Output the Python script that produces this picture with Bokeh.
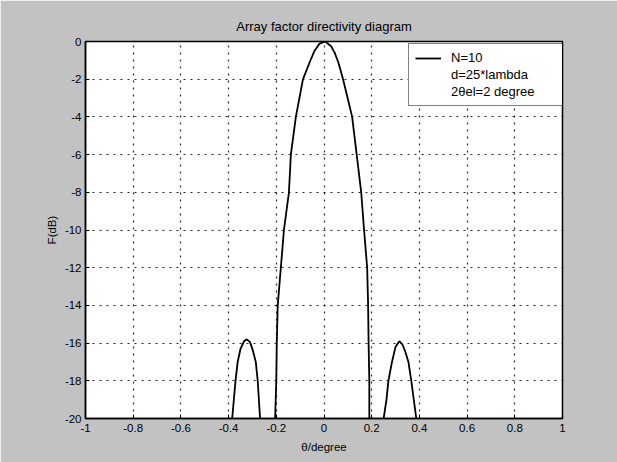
from bokeh.plotting import figure
from bokeh.models import Legend, LegendItem, FixedTicker, Range1d
from bokeh.embed import file_html
from bokeh.resources import INLINE

# ---- data ----
main_x = [-0.205, -0.200, -0.198, -0.194, -0.181, -0.168, -0.147, -0.139, -0.118, -0.088,
          -0.060, -0.040, -0.020, 0.005, 0.030, 0.045, 0.060, 0.080, 0.118, 0.137, 0.156, 0.168,
          0.181, 0.185, 0.187, 0.190, 0.190]
main_y = [-20, -18, -16, -14, -12, -10, -8, -6, -4, -2,
          -1.1, -0.5, -0.13, 0, -0.25, -0.6, -1.1, -2, -4, -6, -8, -10,
          -12, -14, -16, -18, -20]

left_x = [-0.385, -0.371, -0.362, -0.350, -0.335, -0.324, -0.310, -0.298, -0.286, -0.278, -0.268]
left_y = [-20, -18, -17, -16.3, -15.9, -15.8, -15.95, -16.4, -17, -18, -20]

right_x = [0.250, 0.262, 0.270, 0.285, 0.300, 0.316, 0.330, 0.342, 0.354, 0.366, 0.387]
right_y = [-20, -19, -18, -17, -16.2, -15.9, -16.1, -16.5, -17, -18, -20]

x_ticks = [-1, -0.8, -0.6, -0.4, -0.2, 0, 0.2, 0.4, 0.6, 0.8, 1]
y_ticks = [0, -2, -4, -6, -8, -10, -12, -14, -16, -18, -20]

legend_labels = ["N=10", "d=25*lambda", "2θel=2 degree"]
title_text = "Array factor directivity diagram"
x_label = "θ/degree"
y_label = "F(dB)"

FONT = "Liberation Sans"

p = figure(width=617, height=462, output_backend="svg", toolbar_location=None,
           frame_width=477, frame_height=377,
           x_range=Range1d(-1, 1), y_range=Range1d(-20, 0),
           min_border_left=85, min_border_right=55, min_border_top=41, min_border_bottom=44,
           title=title_text)

p.border_fill_color = "#c2c2c2"
p.background_fill_color = "white"
p.outline_line_color = "black"
p.outline_line_width = 1.5

p.title.align = "center"
p.title.text_font = FONT
p.title.text_font_size = "13px"
p.title.text_font_style = "normal"
p.title.text_color = "black"
p.title.standoff = 16

for ax in (p.xaxis[0], p.yaxis[0]):
    ax.major_tick_in = 4
    ax.major_tick_out = 0
    ax.minor_tick_in = 0
    ax.minor_tick_out = 0
    ax.axis_line_color = "black"
    ax.axis_line_width = 1.5
    ax.major_tick_line_color = "black"
    ax.major_label_text_font = FONT
    ax.major_label_text_font_size = "11.5px"
    ax.major_label_text_color = "black"
    ax.axis_label_text_font = FONT
    ax.axis_label_text_font_size = "11.5px"
    ax.axis_label_text_font_style = "normal"
    ax.axis_label_text_color = "black"

p.xaxis.ticker = FixedTicker(ticks=x_ticks)
p.yaxis.ticker = FixedTicker(ticks=y_ticks)
p.xaxis.major_label_overrides = {t: ("0" if t == 0 else f"{t:g}") for t in x_ticks}
p.yaxis.major_label_overrides = {t: f"{t:g}" for t in y_ticks}
p.xaxis.axis_label = x_label
p.yaxis.axis_label = y_label
p.xaxis.major_label_standoff = 5
p.yaxis.major_label_standoff = 4
p.xaxis.axis_label_standoff = 6
p.yaxis.axis_label_standoff = 4

p.grid.grid_line_color = "black"
p.grid.grid_line_dash = "2 5"
p.grid.grid_line_width = 1.2
p.grid.grid_line_alpha = 0.85

r_main = p.line(main_x, main_y, line_color="black", line_width=1.8)
p.line(left_x, left_y, line_color="black", line_width=1.8)
p.line(right_x, right_y, line_color="black", line_width=1.8)
d1 = p.line([0], [0], line_alpha=0)
d2 = p.line([0], [0], line_alpha=0)

legend = Legend(items=[LegendItem(label=legend_labels[0], renderers=[r_main]),
                       LegendItem(label=legend_labels[1], renderers=[d1]),
                       LegendItem(label=legend_labels[2], renderers=[d2])],
                location=(323, 312))
legend.label_text_font = FONT
legend.label_text_font_size = "13px"
legend.label_text_color = "black"
legend.border_line_color = "black"
legend.border_line_width = 1.5
legend.background_fill_color = "white"
legend.background_fill_alpha = 1
legend.glyph_width = 26
legend.glyph_height = 14
legend.label_height = 14
legend.label_width = 107
legend.spacing = 2
legend.padding = 6
legend.margin = 0
legend.label_standoff = 10
p.add_layout(legend)

open("out.html", "w").write(file_html(p, INLINE))
